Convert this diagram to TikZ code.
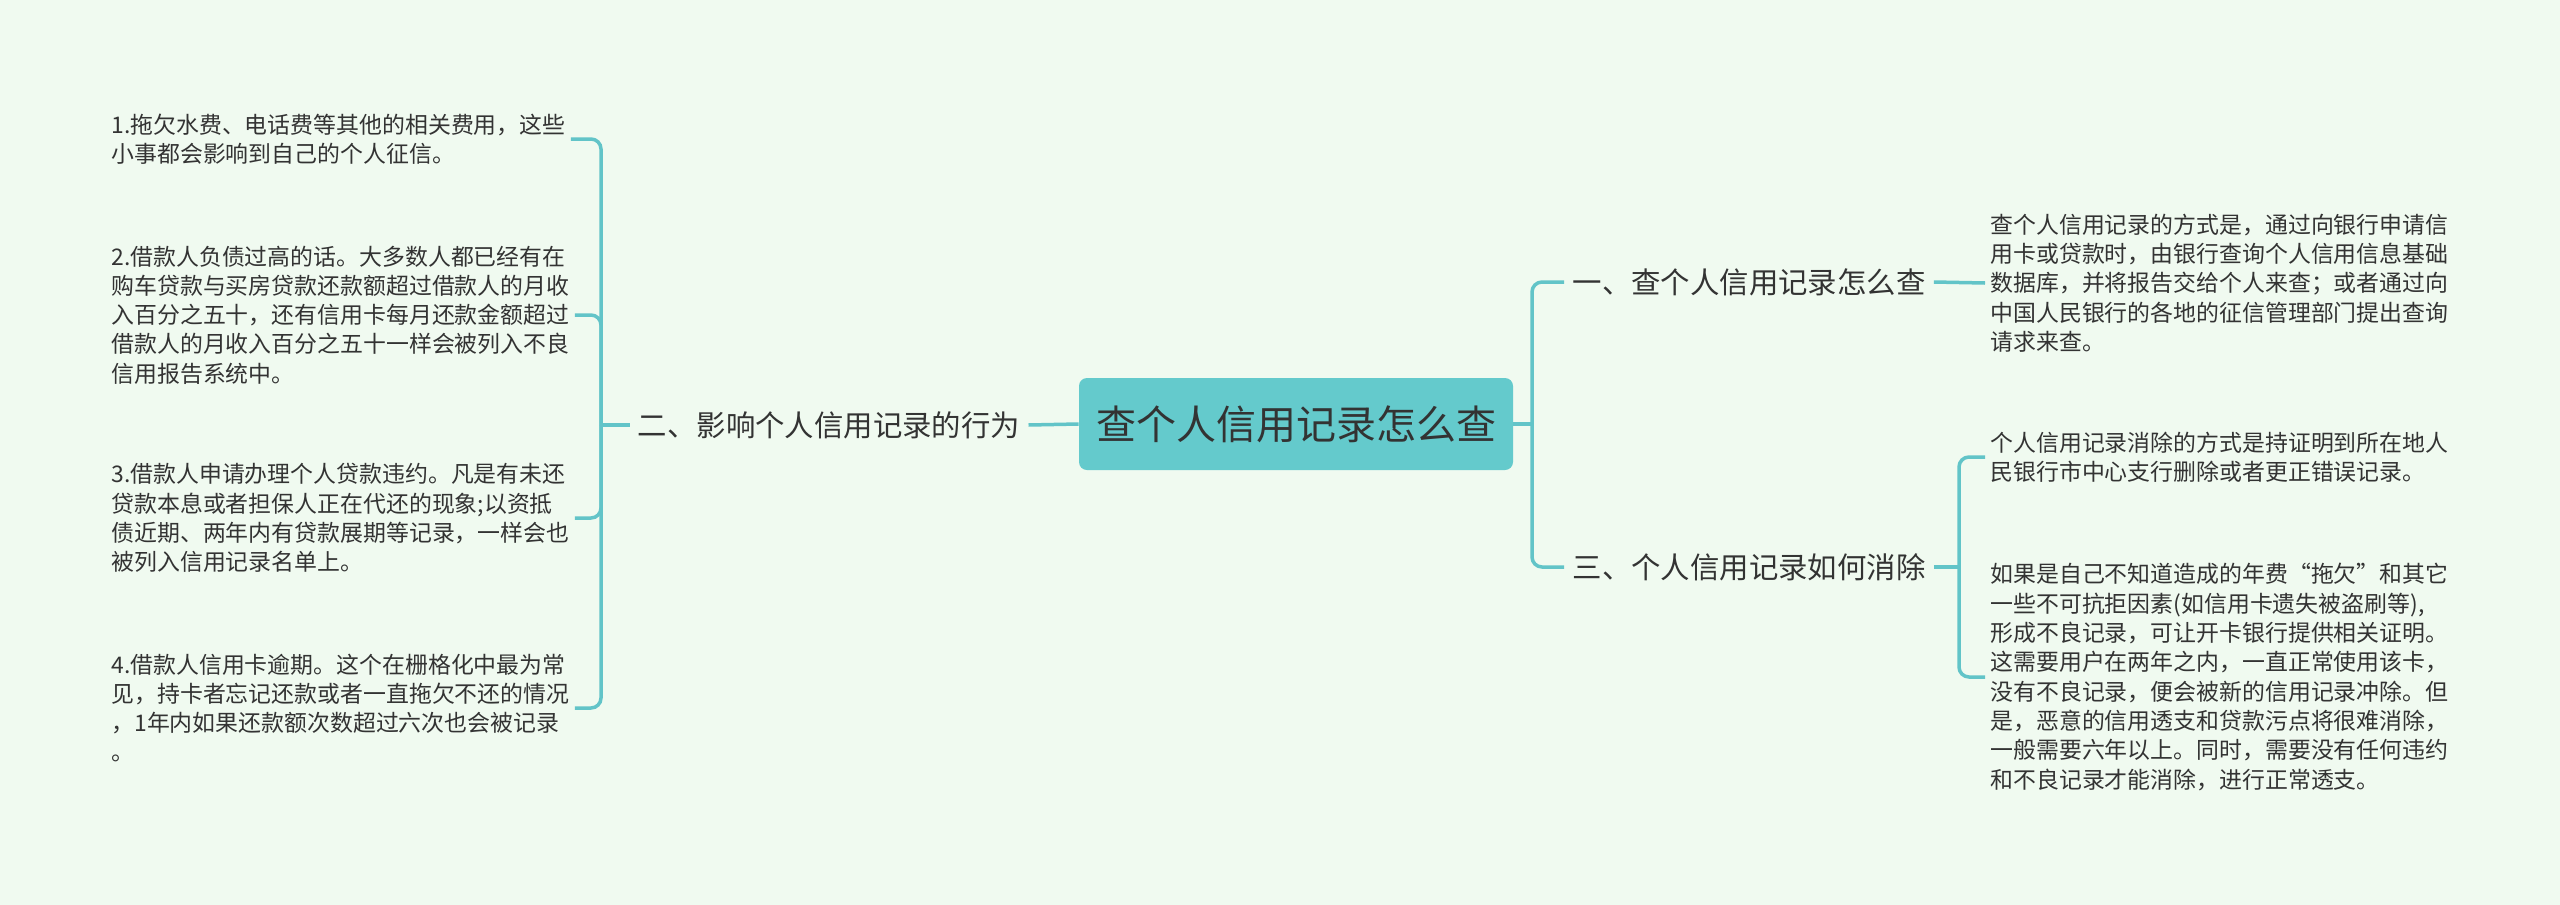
\documentclass[tikz,border=0pt]{standalone}
\usepackage{fontspec}
\setmainfont{Noto Sans CJK SC}
\definecolor{bgmint}{HTML}{F0FAF0}
\definecolor{tealline}{HTML}{62C4C8}
\definecolor{tealbox}{HTML}{64CACC}
\definecolor{inkgray}{HTML}{333333}
\tikzset{
  rootbox/.style={fill=tealbox, rounded corners=4pt, minimum width=217pt,
    minimum height=46pt, inner sep=0pt, text=inkgray,
    font=\fontsize{20pt}{24pt}\selectfont},
  topic/.style={inner xsep=4pt, inner ysep=0pt, text=inkgray,
    font=\fontsize{14.7pt}{18pt}\selectfont},
  leaf/.style={align=left, inner xsep=2.5pt, inner ysep=0pt, text=inkgray,
    font=\fontsize{11.45pt}{14.65pt}\selectfont},
  branch/.style={draw=tealline, line width=1.75pt, rounded corners=5pt},
}
\begin{document}
\begin{tikzpicture}[x=0.5pt,y=-0.5pt]
    \fill[bgmint] (0,0) rectangle (2560,905);
    \useasboundingbox (0,0) rectangle (2560,905);

    \node[rootbox] (root) at (1296,424) {查个人信用记录怎么查};

    % left side
    \node[topic] (infl) at (829,425) {二、影响个人信用记录的行为};
    \coordinate (lfork) at (601,425);
    \node[leaf, anchor=west] (debt1) at (106,139) {1.拖欠水费、电话费等其他的相关费用，这些\\小事都会影响到自己的个人征信。};
    \node[leaf, anchor=west] (debt2) at (106,315) {2.借款人负债过高的话。大多数人都已经有在\\购车贷款与买房贷款还款额超过借款人的月收\\入百分之五十，还有信用卡每月还款金额超过\\借款人的月收入百分之五十一样会被列入不良\\信用报告系统中。};
    \node[leaf, anchor=west] (debt3) at (106,518) {3.借款人申请办理个人贷款违约。凡是有未还\\贷款本息或者担保人正在代还的现象;以资抵\\债近期、两年内有贷款展期等记录，一样会也\\被列入信用记录名单上。};
    \node[leaf, anchor=west] (debt4) at (106,708) {4.借款人信用卡逾期。这个在栅格化中最为常\\见，持卡者忘记还款或者一直拖欠不还的情况\\，1年内如果还款额次数超过六次也会被记录\\。};

    % right side
    \coordinate (rfork) at (1532,424);
    \node[topic] (howchk) at (1749,282) {一、查个人信用记录怎么查};
    \node[topic] (howdel) at (1749,567) {三、个人信用记录如何消除};
    \coordinate (dfork) at (1959,567);
    \node[leaf, anchor=west] (chkway) at (1985,283) {查个人信用记录的方式是，通过向银行申请信\\用卡或贷款时，由银行查询个人信用信息基础\\数据库，并将报告交给个人来查；或者通过向\\中国人民银行的各地的征信管理部门提出查询\\请求来查。};
    \node[leaf, anchor=west] (delway) at (1985,457) {个人信用记录消除的方式是持证明到所在地人\\民银行市中心支行删除或者更正错误记录。};
    \node[leaf, anchor=west] (delcase) at (1985,677) {如果是自己不知道造成的年费“拖欠”和其它\\一些不可抗拒因素(如信用卡遗失被盗刷等),\\形成不良记录，可让开卡银行提供相关证明。\\这需要用户在两年之内，一直正常使用该卡，\\没有不良记录，便会被新的信用记录冲除。但\\是，恶意的信用透支和贷款污点将很难消除，\\一般需要六年以上。同时，需要没有任何违约\\和不良记录才能消除，进行正常透支。};

    \draw[branch] (root.west) -- (infl.east);
    \draw[branch] (infl.west) -- (lfork);
    \foreach \t in {debt1,debt2,debt3,debt4}
      \draw[branch] (lfork) |- (\t.east);
    \draw[branch] (root.east) -- (rfork);
    \draw[branch] (rfork) |- (howchk.west);
    \draw[branch] (rfork) |- (howdel.west);
    \draw[branch] (howchk.east) -- (chkway.west);
    \draw[branch] (howdel.east) -- (dfork);
    \draw[branch] (dfork) |- (delway.west);
    \draw[branch] (dfork) |- (delcase.west);
\end{tikzpicture}
\end{document}
